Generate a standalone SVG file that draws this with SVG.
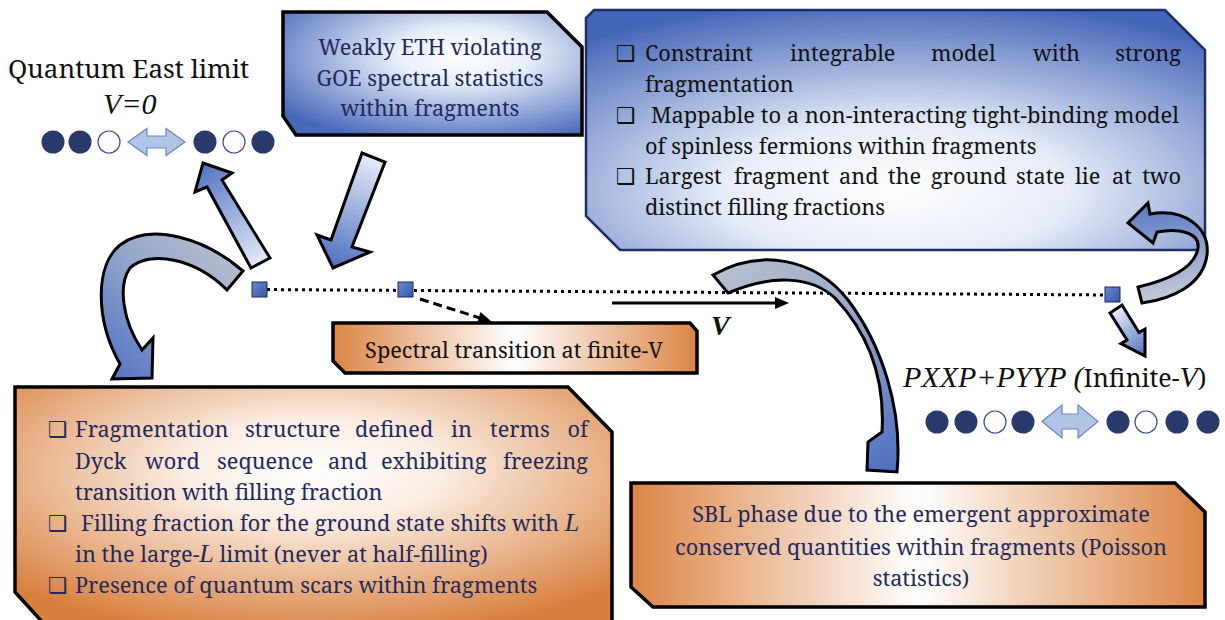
<svg xmlns="http://www.w3.org/2000/svg" width="1225" height="620" viewBox="0 0 1225 620">
<style>
  .dot { fill: #283a6b; }
  .odot { fill: #fff; stroke: #3b5090; stroke-width: 1.2; }
  .dbl { fill: #b3c3e6; stroke: #6a85c4; stroke-width: 1.2; }
  .blkarrow { stroke: #000; stroke-width: 3; stroke-linejoin: miter; }
  .sq { fill: url(#gSq); stroke: #1a2a5a; stroke-width: 1; }
</style>
<defs>
  <radialGradient id="gBlueTR" cx="0.5" cy="0.75" r="0.8">
    <stop offset="0" stop-color="#ffffff"/>
    <stop offset="0.35" stop-color="#e6ecf8"/>
    <stop offset="1" stop-color="#4566b8"/>
  </radialGradient>
  <radialGradient id="gBlueW" cx="0.6" cy="0.35" r="0.75">
    <stop offset="0" stop-color="#ffffff"/>
    <stop offset="0.3" stop-color="#e8eef9"/>
    <stop offset="1" stop-color="#4868bb"/>
  </radialGradient>
  <radialGradient id="gOrange" cx="0.5" cy="0.35" r="0.7">
    <stop offset="0" stop-color="#ffffff"/>
    <stop offset="0.3" stop-color="#fbeee4"/>
    <stop offset="1" stop-color="#d9803f"/>
  </radialGradient>
  <linearGradient id="gOrangeH" x1="0" y1="0" x2="1" y2="0">
    <stop offset="0" stop-color="#dc8546"/>
    <stop offset="0.5" stop-color="#ffffff"/>
    <stop offset="1" stop-color="#dc8546"/>
  </linearGradient>
  <linearGradient id="gSq" x1="0" y1="0" x2="1" y2="1">
    <stop offset="0" stop-color="#6c8ad0"/>
    <stop offset="1" stop-color="#3556a6"/>
  </linearGradient>
  <linearGradient id="gA" gradientUnits="userSpaceOnUse" x1="261" y1="263" x2="203" y2="163">
    <stop offset="0" stop-color="#e4ebf8"/>
    <stop offset="1" stop-color="#5272c1"/>
  </linearGradient>
  <linearGradient id="gB" gradientUnits="userSpaceOnUse" x1="373" y1="157" x2="333" y2="268">
    <stop offset="0" stop-color="#e6ecf8"/>
    <stop offset="1" stop-color="#4e6fbf"/>
  </linearGradient>
  <linearGradient id="gC" gradientUnits="userSpaceOnUse" x1="240" y1="255" x2="120" y2="380">
    <stop offset="0" stop-color="#b9c0cd"/>
    <stop offset="0.45" stop-color="#94a6cc"/>
    <stop offset="1" stop-color="#5676c4"/>
  </linearGradient>
  <linearGradient id="gD" gradientUnits="userSpaceOnUse" x1="720" y1="265" x2="890" y2="470">
    <stop offset="0" stop-color="#b8c0ce"/>
    <stop offset="0.45" stop-color="#98a8c8"/>
    <stop offset="1" stop-color="#4f70c0"/>
  </linearGradient>
  <linearGradient id="gE" gradientUnits="userSpaceOnUse" x1="1150" y1="300" x2="1140" y2="205">
    <stop offset="0" stop-color="#c3c9d4"/>
    <stop offset="1" stop-color="#5a7ac6"/>
  </linearGradient>
  <linearGradient id="gF" gradientUnits="userSpaceOnUse" x1="1116" y1="309" x2="1145" y2="356">
    <stop offset="0" stop-color="#e6ecf8"/>
    <stop offset="1" stop-color="#5070c0"/>
  </linearGradient>
</defs>
<rect width="1225" height="620" fill="#ffffff"/>

<g id="quantum-east">
  <text font-family="Noto Serif, serif" font-size="26" fill="#111" x="8" y="78">Quantum East limit</text>
  <text font-family="Liberation Serif, serif" font-size="30" font-style="italic" fill="#111" x="103" y="114">V=0</text>
  <circle class="dot" cx="53" cy="142" r="11.5"/>
  <circle class="dot" cx="80" cy="142" r="11.5"/>
  <circle class="odot" cx="109" cy="142" r="11"/>
  <polygon class="dbl" points="128,142 147,128.5 147,136 166,136 166,128.5 185,142 166,155.5 166,148 147,148 147,155.5"/>
  <circle class="dot" cx="205" cy="142" r="11.5"/>
  <circle class="odot" cx="234" cy="142" r="11"/>
  <circle class="dot" cx="263" cy="142" r="11.5"/>
</g>

<g id="weakly-eth" font-family="Noto Serif, serif" font-size="21.7" fill="#1e2b5c" text-anchor="middle">
  <polygon points="283,12 547,12 582,47 582,135 296,135 283,116" fill="url(#gBlueW)" stroke="#000" stroke-width="3.5"/>
  <text x="430" y="55">Weakly ETH violating</text>
  <text x="430" y="86">GOE spectral statistics</text>
  <text x="430" y="116">within fragments</text>
</g>

<g id="integrable-box" font-family="Noto Serif, serif" font-size="21.7" fill="#111">
  <polygon points="594,10 1165,10 1205,50 1205,243 1198,250 620,250 586,216 586,18" fill="url(#gBlueTR)" stroke="#1e2f66" stroke-width="2.5"/>
  <text font-family="DejaVu Sans" font-size="22" x="616" y="61">❑</text>
  <text y="61"><tspan x="645">Constraint</tspan><tspan x="790">integrable</tspan><tspan x="931">model</tspan><tspan x="1033">with</tspan></text>
  <text x="1181" y="61" text-anchor="end">strong</text>
  <text x="645" y="92">fragmentation</text>
  <text font-family="DejaVu Sans" font-size="22" x="616" y="123">❑</text>
  <text x="651" y="123" textLength="528" lengthAdjust="spacingAndGlyphs">Mappable to a non-interacting tight-binding model</text>
  <text x="645" y="154">of spinless fermions within fragments</text>
  <text font-family="DejaVu Sans" font-size="22" x="616" y="184">❑</text>
  <text y="184"><tspan x="645">Largest</tspan><tspan x="734">fragment</tspan><tspan x="839">and</tspan><tspan x="888">the</tspan><tspan x="931">ground</tspan><tspan x="1016">state</tspan><tspan x="1075">lie</tspan><tspan x="1112">at</tspan></text>
  <text x="1181" y="184" text-anchor="end">two</text>
  <text x="645" y="215">distinct filling fractions</text>
</g>

<g id="spectral-box">
  <polygon points="333,323 690,323 697,331 697,373 345,373 333,361" fill="url(#gOrangeH)" stroke="#000" stroke-width="3.5"/>
  <text font-family="Noto Serif, serif" font-size="21.7" fill="#111" text-anchor="middle" x="514" y="358">Spectral transition at finite-V</text>
</g>

<g id="fragmentation-box" font-family="Noto Serif, serif" font-size="21.7" fill="#1e2b5c">
  <polygon points="15,387 568,387 612,432 612,625 45,625 15,592" fill="url(#gOrange)" stroke="#000" stroke-width="3.5"/>
  <text font-family="DejaVu Sans" font-size="22" x="48" y="437">❑</text>
  <text y="437"><tspan x="75">Fragmentation</tspan><tspan x="245">structure</tspan><tspan x="355">defined</tspan><tspan x="451">in</tspan><tspan x="490">terms</tspan></text>
  <text x="588" y="437" text-anchor="end">of</text>
  <text y="469"><tspan x="75">Dyck</tspan><tspan x="145">word</tspan><tspan x="217">sequence</tspan><tspan x="328">and</tspan><tspan x="381">exhibiting</tspan></text>
  <text x="588" y="469" text-anchor="end">freezing</text>
  <text x="75" y="500">transition with filling fraction</text>
  <text font-family="DejaVu Sans" font-size="22" x="48" y="531">❑</text>
  <text x="81" y="531">Filling fraction for the ground state shifts with <tspan font-family="Liberation Serif, serif" font-size="26" font-style="italic">L</tspan></text>
  <text x="75" y="562">in the large-<tspan font-family="Liberation Serif, serif" font-size="26" font-style="italic">L</tspan> limit (never at half-filling)</text>
  <text font-family="DejaVu Sans" font-size="22" x="48" y="593">❑</text>
  <text x="75" y="593">Presence of quantum scars within fragments</text>
</g>

<g id="sbl-box" font-family="Noto Serif, serif" font-size="21.7" fill="#1e2b5c" text-anchor="middle">
  <polygon points="631,483 1175,483 1205,512 1205,607 653,607 631,587" fill="url(#gOrangeH)" stroke="#000" stroke-width="3.5"/>
  <text x="921" y="522">SBL phase due to the emergent approximate</text>
  <text x="921" y="555">conserved quantities within fragments (Poisson</text>
  <text x="921" y="586">statistics)</text>
</g>

<g id="infinite-v">
  <text font-family="Liberation Serif, serif" font-size="30" fill="#111" x="903" y="387"><tspan font-style="italic">PXXP+PYYP (</tspan><tspan font-family="Noto Serif, serif" font-size="25">Infinite-</tspan><tspan font-style="italic">V</tspan><tspan font-family="Noto Serif, serif" font-size="25">)</tspan></text>
  <circle class="dot" cx="937" cy="422" r="11.5"/>
  <circle class="dot" cx="966" cy="422" r="11.5"/>
  <circle class="odot" cx="995" cy="422" r="11"/>
  <circle class="dot" cx="1023" cy="422" r="11.5"/>
  <polygon class="dbl" points="1042,421.5 1062,405 1062,414 1078,414 1078,405 1098,421.5 1078,438 1078,429 1062,429 1062,438"/>
  <circle class="dot" cx="1118" cy="422" r="11.5"/>
  <circle class="odot" cx="1146" cy="422" r="11"/>
  <circle class="dot" cx="1177" cy="422" r="11.5"/>
  <circle class="dot" cx="1208" cy="422" r="11.5"/>
</g>

<g id="connectors">
  <line x1="260" y1="289.5" x2="1112" y2="295" stroke="#000" stroke-width="3" stroke-dasharray="3,4"/>
  <rect class="sq" x="252" y="282" width="15" height="15"/>
  <rect class="sq" x="398" y="282" width="15" height="15"/>
  <rect class="sq" x="1105" y="287" width="15" height="15"/>
  <line x1="612" y1="303" x2="776" y2="303" stroke="#000" stroke-width="3"/>
  <polygon points="775,297 789,303 775,309" fill="#000"/>
  <text font-family="Liberation Serif, serif" font-size="28" font-style="italic" font-weight="bold" fill="#111" x="711" y="335">V</text>
  <line x1="420" y1="299" x2="479" y2="317.7" stroke="#000" stroke-width="3" stroke-dasharray="9,5"/>
  <polygon points="492,322 476.9,323.4 480.5,312" fill="#000"/>
  <polygon class="blkarrow" fill="url(#gA)" points="251,268 270,258 222,180 232,173 203,163 195,192 207,187"/>
  <polygon class="blkarrow" fill="url(#gB)" points="362,153 385,162 352,247 370,252 333,268 317,235 331,240"/>
  <path class="blkarrow" fill="url(#gC)" d="M243,271 C205,238 150,222 120,245 C95,265 95,320 120,364 L112,379 L152,378 L153,338 L142,350 C122,320 118,285 130,268 C150,250 195,258 227,290 Z"/>
  <path class="blkarrow" fill="url(#gD)" d="M713,275 C760,248 815,258 848,300 C882,345 903,410 897,472 L867,470 L868,442 L882,432 C885,380 870,335 835,298 C810,275 770,275 728,293 Z"/>
  <path class="blkarrow" fill="url(#gE)" d="M1138,287 C1168,280 1195,268 1198,248 C1200,232 1178,228 1157,232 L1153,243 L1128,223 L1148,203 L1150,214 C1185,208 1210,228 1207,255 C1203,285 1172,299 1142,303 Z"/>
  <polygon class="blkarrow" fill="url(#gF)" points="1110,313 1122,305 1139,332.5 1145,329 1145,356 1121,343.6 1127,340"/>
</g>
</svg>
